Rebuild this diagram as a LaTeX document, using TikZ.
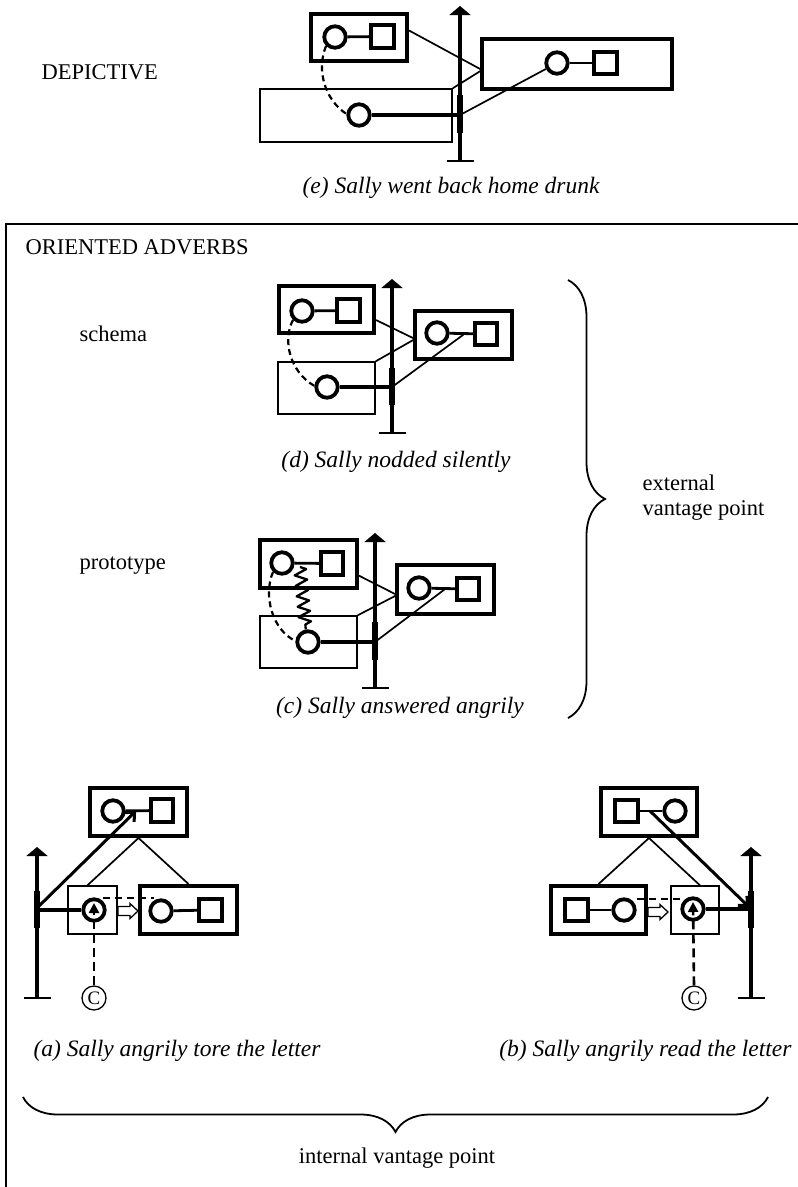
\documentclass[tikz,border=0pt]{standalone}
\usepackage{fontspec}
\setmainfont{Liberation Serif}
\usetikzlibrary{arrows.meta,calc,decorations.pathmorphing,decorations.pathreplacing}
\newcommand\figfont{\fontsize{22.5}{26}\selectfont}
\newcommand\capfont{\fontsize{23.5}{27}\selectfont\itshape}
\begin{document}
\begin{tikzpicture}[x=1pt,y=-1pt,
  thick box/.style={draw, rectangle, line width=4pt, inner sep=0pt},
  thin box/.style={draw, rectangle, line width=1.4pt, inner sep=0pt},
  ring/.style={draw, circle, line width=3.8pt, inner sep=0pt, minimum size=21.5pt},
  sqr/.style={draw, rectangle, line width=3.6pt, inner sep=0pt, minimum size=22.5pt},
  link/.style={line width=2.8pt},
  tie/.style={line width=1.7pt},
  path line/.style={line width=4.5pt},
  axis/.style={line width=3.2pt, {Bar[width=27pt,line width=2pt]}-{Triangle[width=21pt,length=9pt]}},
  axis mark/.style={line width=6.5pt},
  trace/.style={line width=2.2pt, dash pattern=on 6pt off 4pt},
  flat trace/.style={line width=2.5pt, dash pattern=on 7pt off 5pt},
  cue/.style={line width=2.6pt, dash pattern=on 9pt off 5pt, -{Triangle[width=10pt,length=10pt]}},
  lever/.style={line width=3pt, -{Straight Barb[length=7pt,width=13pt]}},
  coil line/.style={line width=2.3pt, line join=round, decorate,
    decoration={zigzag, segment length=10.5pt, amplitude=6pt}},
  source/.style={draw, circle, line width=1.3pt, inner sep=0pt, minimum size=24pt,
    font=\fontsize{19}{19}\selectfont},
  label/.style={anchor=base west, font=\figfont},
  caption/.style={anchor=base, font=\capfont},
  frame/.style={line width=1.5pt},
  brace line/.style={line width=1.8pt, decorate},
  hollow/.pic={\draw[line width=1.3pt, fill=white]
    (0,-4.5) -- (12,-4.5) -- (12,-7.5) -- (20,0) -- (12,7.5) -- (12,4.5) -- (0,4.5) -- cycle;}
]
\useasboundingbox (0,0) rectangle (798,1187);

% ================= depictive =================
\node[label] (depictive) at (38,79) {DEPICTIVE};
\node[thick box, minimum width=96pt, minimum height=47pt] (e1) at (359,37.5) {};
\node[ring] (e1c) at (335,37) {};
\node[sqr] (e1s) at (382.5,36.5) {};
\draw[link] (e1c) -- (e1s);
\node[thick box, minimum width=190pt, minimum height=50pt] (e2) at (577,64) {};
\node[ring] (e2c) at (557,63) {};
\node[sqr] (e2s) at (605.5,63) {};
\draw[link] (e2c) -- (e2s);
\node[thin box, minimum width=192pt, minimum height=53pt] (e3) at (356,115.5) {};
\node[ring] (e3c) at (359,115) {};
\coordinate (eAxB) at (460,162);
\coordinate (eAxT) at (460,6);
\coordinate (eM1) at (460,95);
\coordinate (eM2) at (460,133);
\coordinate (e2in) at (482,70);
\draw[axis] (eAxB) -- (eAxT);
\draw[axis mark] (eM1) -- (eM2);
\draw[path line] (e3c) -- (e3c -| eAxB);
\draw[tie] (e1.8) -- (e2in);
\draw[tie] (e3.north east) -- (e2in);
\draw[tie] (e3c -| eAxB) -- (e2c);
\draw[trace] (e1c.225) .. controls (316,70) and (325,100) .. (e3c.175);
\node[caption] (ecap) at (451,193) {(e) Sally went back home drunk};

% ================= oriented adverbs frame =================
\coordinate (fTR) at (798,224);
\coordinate (fTL) at (6,224);
\coordinate (fBL) at (6,1187);
\draw[frame] (fTR) -- (fTL) -- (fBL);
\node[label] (oriented) at (22,254) {ORIENTED ADVERBS};

% ---------- (d) schema ----------
\node[label] (schema) at (76,341) {schema};
\node[thick box, minimum width=95pt, minimum height=47pt] (d1) at (326.5,309.5) {};
\node[ring] (d1c) at (302,311) {};
\node[sqr] (d1s) at (348.5,310.5) {};
\draw[link] (d1c) -- (d1s);
\node[thick box, minimum width=97pt, minimum height=48pt] (d2) at (463.5,335) {};
\node[ring] (d2c) at (437,333) {};
\node[sqr] (d2s) at (486,334) {};
\draw[link] (d2c) -- (d2s);
\node[thin box, minimum width=97pt, minimum height=52pt] (d3) at (326.5,388) {};
\node[ring] (d3c) at (327,387) {};
\coordinate (dAxB) at (392,434);
\coordinate (dAxT) at (392,279);
\coordinate (dM1) at (392,368);
\coordinate (dM2) at (392,405);
\coordinate (d2in) at (415,339);
\coordinate (d2k) at ($(d2c.east)!0.65!(d2s.west)$);
\draw[axis] (dAxB) -- (dAxT);
\draw[axis mark] (dM1) -- (dM2);
\draw[path line] (d3c) -- (d3c -| dAxB);
\draw[tie] (d1.-12) -- (d2in);
\draw[tie] (d3.north east) -- (d2in);
\draw[tie] (d3c -| dAxB) -- (d2k);
\draw[trace] (d1c.225) .. controls (282,340) and (290,372) .. (d3c.175);
\node[caption] (dcap) at (396,467) {(d) Sally nodded silently};

% ---------- (c) prototype ----------
\node[label] (prototype) at (76,569) {prototype};
\node[thick box, minimum width=97pt, minimum height=48pt] (c1) at (308.5,564) {};
\node[ring] (c1c) at (282,563) {};
\node[sqr] (c1s) at (332,563.5) {};
\draw[link] (c1c) -- (c1s);
\node[thick box, minimum width=97pt, minimum height=49pt] (c2) at (445.5,589.5) {};
\node[ring] (c2c) at (419,588) {};
\node[sqr] (c2s) at (468,589) {};
\draw[link] (c2c) -- (c2s);
\node[thin box, minimum width=97pt, minimum height=52pt] (c3) at (308.5,642) {};
\node[ring] (c3c) at (308,642) {};
\coordinate (cAxB) at (375,689);
\coordinate (cAxT) at (375,533);
\coordinate (cM1) at (375,622);
\coordinate (cM2) at (375,660);
\coordinate (c2in) at (397,595);
\coordinate (c2k) at ($(c2c.east)!0.6!(c2s.west)$);
\coordinate (cCoil) at (300,567);
\draw[axis] (cAxB) -- (cAxT);
\draw[axis mark] (cM1) -- (cM2);
\draw[path line] (c3c) -- (c3c -| cAxB);
\draw[tie] (c1.-13) -- (c2in);
\draw[tie] (c3.north east) -- (c2in);
\draw[tie] (c3c -| cAxB) -- (c2k);
\draw[trace] (c1c.225) .. controls (263,595) and (272,630) .. (c3c.175);
\draw[coil line] (cCoil) -- (c3c.100);
\node[caption] (ccap) at (400,713) {(c) Sally answered angrily};

% ---------- external vantage point ----------
\coordinate (rbT) at (568,280);
\coordinate (rbB) at (568,718);
\draw[brace line, decoration={brace, amplitude=37pt}] (rbT) -- (rbB);
\node[label] (ext1) at (639,490) {external};
\node[label] (ext2) at (639,515) {vantage point};

% ---------- (a) ----------
\node[thick box, minimum width=97pt, minimum height=48pt] (a1) at (138.5,812) {};
\node[ring] (a1c) at (113,811) {};
\node[sqr] (a1s) at (162,810.5) {};
\draw[link] (a1c) -- (a1s);
\node[thin box, minimum width=49pt, minimum height=48pt] (a3) at (92.5,910) {};
\node[ring] (a3c) at (94,910) {};
\node[thick box, minimum width=97pt, minimum height=48pt] (a2) at (188.5,910) {};
\node[ring] (a2c) at (161,911) {};
\node[sqr] (a2s) at (210.5,910) {};
\draw[link] (a2c) -- (a2s);
\coordinate (aAxB) at (37,999);
\coordinate (aAxT) at (37,847);
\coordinate (aM1) at (37,891);
\coordinate (aM2) at (37,928);
\coordinate (a1k) at ($(a1c.east)!0.45!(a1s.west)$);
\coordinate (aD1) at (103,898);
\coordinate (aD2) at (154,898);
\draw[axis] (aAxB) -- (aAxT);
\draw[axis mark] (aM1) -- (aM2);
\draw[path line] (a3c -| aAxB) -- (a3c);
\draw[lever] ($(a3c -| aAxB)+(1,-3)$) -- (a1k);
\draw[tie] (a1.south) -- ($(a3.north west)!0.4!(a3.north east)$);
\draw[tie] (a1.south) -- (a2.north);
\draw[flat trace] (aD1) -- (aD2);
\pic at (118,911) {hollow};
\node[source] (aC) at (94,998) {C};
\draw[cue] (aC.north) -- ($(a3c)+(0,-7)$);
\node[caption, anchor=base west] (acap) at (30,1056) {(a) Sally angrily tore the letter};

% ---------- (b) ----------
\node[thick box, minimum width=96pt, minimum height=48pt] (b1) at (649,812) {};
\node[sqr] (b1s) at (626.5,811) {};
\node[ring] (b1c) at (675,811) {};
\draw[link] (b1s) -- (b1c);
\node[thick box, minimum width=95pt, minimum height=48pt] (b2) at (598.5,910) {};
\node[sqr] (b2s) at (576.5,910) {};
\node[ring] (b2c) at (624,910) {};
\draw[link] (b2s) -- (b2c);
\node[thin box, minimum width=48pt, minimum height=48pt] (b3) at (695,910) {};
\node[ring] (b3c) at (693,909) {};
\coordinate (bAxB) at (751,999);
\coordinate (bAxT) at (751,847);
\coordinate (bM1) at (751,891);
\coordinate (bM2) at (751,928);
\coordinate (b1k) at ($(b1s.east)!0.46!(b1c.west)$);
\coordinate (bD1) at (637,899);
\coordinate (bD2) at (684,899);
\draw[axis] (bAxB) -- (bAxT);
\draw[axis mark] (bM1) -- (bM2);
\draw[path line] (b3c) -- (b3c -| bAxB);
\draw[lever] (b1k) -- ($(b3c -| bAxB)+(-2,-2)$);
\draw[tie] (b1.south) -- (b2.north);
\draw[tie] (b1.south) -- ($(b3.north west)!0.6!(b3.north east)$);
\draw[flat trace] (bD1) -- (bD2);
\pic at (648,912) {hollow};
\node[source] (bC) at (694,998) {C};
\draw[cue] (bC.north) -- ($(b3c)+(0,-7)$);
\node[caption, anchor=base east] (bcap) at (795,1056) {(b) Sally angrily read the letter};

% ---------- internal vantage point ----------
\coordinate (bbL) at (23,1097);
\coordinate (bbR) at (768,1097);
\draw[brace line, decoration={brace, amplitude=35pt}] (bbR) -- (bbL);
\node[caption, font=\figfont] (internal) at (397,1163) {internal vantage point};
\end{tikzpicture}
\end{document}
